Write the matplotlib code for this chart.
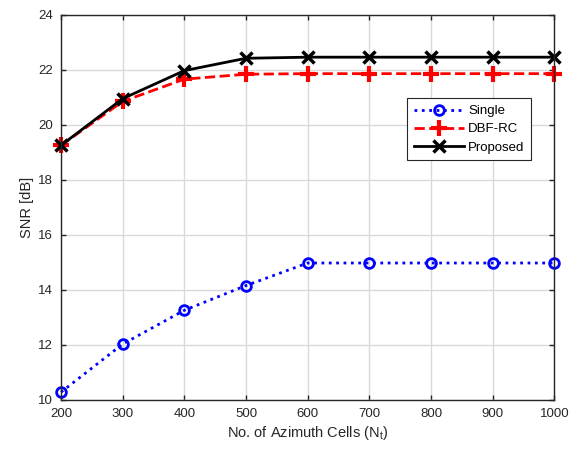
import matplotlib
matplotlib.use("Agg")
import matplotlib.pyplot as plt

cells = [200, 300, 400, 500, 600, 700, 800, 900, 1000]
snr_single = [10.27, 12.02, 13.25, 14.15, 14.97, 14.97, 14.97, 14.97, 14.97]
snr_dbf = [19.25, 20.85, 21.66, 21.84, 21.86, 21.86, 21.86, 21.86, 21.86]
snr_prop = [19.25, 20.95, 21.97, 22.42, 22.46, 22.46, 22.46, 22.46, 22.46]

plt.rcParams['font.family'] = ['Liberation Sans', 'DejaVu Sans']

fig = plt.figure(figsize=(5.77, 4.5), dpi=100)
ax = fig.add_axes([0.1057, 0.112, 0.855, 0.855])

ax.plot(cells, snr_single, ':', color='#0000ff', lw=2, marker='o',
        ms=7, mfc='none', mew=2, label='Single', clip_on=False)
ax.plot(cells, snr_dbf, '--', color='#ff0000', lw=2, marker='+',
        ms=11, mew=3, label='DBF-RC', clip_on=False)
ax.plot(cells, snr_prop, '-', color='black', lw=2, marker='x',
        ms=9, mew=2.5, label='Proposed', clip_on=False)

ax.set_xlim(200, 1000)
ax.set_ylim(10, 24)
ax.set_xticks(range(200, 1001, 100))
ax.set_yticks(range(10, 25, 2))
ax.grid(True, color='#d9d9d9', lw=1)
ax.set_axisbelow(True)
ax.tick_params(direction='in', top=True, right=True, labelsize=9.5,
               length=3.6, width=1, colors='#262626', pad=6)
for s in ax.spines.values():
    s.set_color('#262626')
    s.set_linewidth(1)

ax.set_xlabel(r'No. of Azimuth Cells (N$_{\mathregular{t}}$)', fontsize=10.5,
              color='#262626', labelpad=3)
ax.set_ylabel('SNR [dB]', fontsize=10.5, color='#262626', labelpad=3)

leg = ax.legend(loc='upper left', bbox_to_anchor=(0.702, 0.783), fontsize=9.5,
                fancybox=False, edgecolor='#262626', framealpha=1,
                handlelength=3.8, borderpad=0.5, labelspacing=0.45,
                handletextpad=0.3, borderaxespad=0)
leg.get_frame().set_linewidth(0.8)

fig.savefig('out.png', dpi=100)
